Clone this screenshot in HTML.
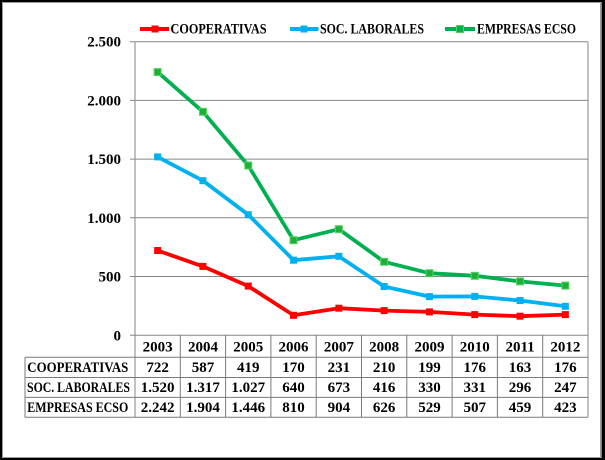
<!DOCTYPE html>
<html><head><meta charset="utf-8"><style>
html,body{margin:0;padding:0;background:#fff;width:605px;height:460px;overflow:hidden;}
svg{display:block;}
text{font-family:"Liberation Serif",serif;font-weight:bold;fill:#000;}
</style></head><body>
<svg width="605" height="460" viewBox="0 0 605 460" xmlns="http://www.w3.org/2000/svg">
<rect x="0" y="0" width="605" height="460" fill="#ffffff"/>
<!-- outer border -->
<rect x="0" y="0" width="605" height="2" fill="#000"/>
<rect x="0" y="0" width="2" height="460" fill="#000"/>
<rect x="601.5" y="0" width="3.5" height="460" fill="#000"/>
<rect x="0" y="458" width="605" height="2" fill="#000"/>
<line x1="2.5" y1="2.5" x2="600.5" y2="2.5" stroke="#9a9a9a" stroke-width="1"/>
<line x1="2.5" y1="2.5" x2="2.5" y2="457.5" stroke="#9a9a9a" stroke-width="1"/>
<line x1="600.5" y1="2.5" x2="600.5" y2="457.5" stroke="#9a9a9a" stroke-width="1"/>
<line x1="2.5" y1="457.5" x2="600.5" y2="457.5" stroke="#9a9a9a" stroke-width="1"/>

<!-- legend -->
<line x1="140" y1="29" x2="169" y2="29" stroke="#ff0000" stroke-width="4"/>
<rect x="151.5" y="25.5" width="7" height="7" fill="#ff0000"/>
<text x="170.5" y="33.5" font-size="14.5" textLength="96" lengthAdjust="spacingAndGlyphs">COOPERATIVAS</text>
<line x1="290" y1="29" x2="318.5" y2="29" stroke="#00b0f0" stroke-width="4"/>
<rect x="300.5" y="25.5" width="7" height="7" fill="#00b0f0"/>
<text x="320" y="33.5" font-size="14.5" textLength="104" lengthAdjust="spacingAndGlyphs">SOC. LABORALES</text>
<line x1="445" y1="29" x2="475" y2="29" stroke="#00b050" stroke-width="4"/>
<rect x="456.5" y="25.5" width="7" height="7" fill="#00b050" stroke="#4fd35a" stroke-width="1"/>
<text x="477" y="33.5" font-size="14.5" textLength="99" lengthAdjust="spacingAndGlyphs">EMPRESAS ECSO</text>

<!-- gridlines -->
<g stroke="#868686" stroke-width="1">
<line x1="130" y1="41.7" x2="588" y2="41.7"/>
<line x1="130" y1="100.4" x2="588" y2="100.4"/>
<line x1="130" y1="159.1" x2="588" y2="159.1"/>
<line x1="130" y1="217.8" x2="588" y2="217.8"/>
<line x1="130" y1="276.5" x2="588" y2="276.5"/>
<line x1="130" y1="335.3" x2="588" y2="335.3"/>
<line x1="588" y1="41.7" x2="588" y2="417.3"/>
<line x1="135" y1="41.7" x2="135" y2="417.3"/>
</g>
<!-- y labels -->
<g font-size="15" text-anchor="end">
<text x="121" y="46.7">2.500</text>
<text x="121" y="105.4">2.000</text>
<text x="121" y="164.1">1.500</text>
<text x="121" y="222.8">1.000</text>
<text x="121" y="281.5">500</text>
<text x="121" y="340.3">0</text>
</g>

<!-- table -->
<g stroke="#7a7a7a" stroke-width="1" fill="none">
<line x1="180.3" y1="335.3" x2="180.3" y2="417.3"/>
<line x1="225.6" y1="335.3" x2="225.6" y2="417.3"/>
<line x1="270.9" y1="335.3" x2="270.9" y2="417.3"/>
<line x1="316.2" y1="335.3" x2="316.2" y2="417.3"/>
<line x1="361.5" y1="335.3" x2="361.5" y2="417.3"/>
<line x1="406.8" y1="335.3" x2="406.8" y2="417.3"/>
<line x1="452.1" y1="335.3" x2="452.1" y2="417.3"/>
<line x1="497.4" y1="335.3" x2="497.4" y2="417.3"/>
<line x1="542.7" y1="335.3" x2="542.7" y2="417.3"/>
<line x1="25" y1="357.3" x2="588" y2="357.3"/>
<line x1="25" y1="377.5" x2="588" y2="377.5"/>
<line x1="25" y1="397.4" x2="588" y2="397.4"/>
<line x1="25" y1="417.3" x2="588" y2="417.3"/>
<line x1="25" y1="357.3" x2="25" y2="417.3"/>
</g>
<g font-size="14.5">
<text x="27.3" y="371.8" textLength="101" lengthAdjust="spacingAndGlyphs">COOPERATIVAS</text>
<text x="27" y="391.8" textLength="103" lengthAdjust="spacingAndGlyphs">SOC. LABORALES</text>
<text x="27.3" y="411.8" textLength="101" lengthAdjust="spacingAndGlyphs">EMPRESAS ECSO</text>
</g>
<g font-size="15" text-anchor="middle">
<text x="157.65" y="351.7">2003</text><text x="202.95" y="351.7">2004</text><text x="248.25" y="351.7">2005</text><text x="293.55" y="351.7">2006</text><text x="338.85" y="351.7">2007</text><text x="384.15" y="351.7">2008</text><text x="429.45" y="351.7">2009</text><text x="474.75" y="351.7">2010</text><text x="520.05" y="351.7">2011</text><text x="565.35" y="351.7">2012</text>
<text x="157.65" y="371.8">722</text><text x="202.95" y="371.8">587</text><text x="248.25" y="371.8">419</text><text x="293.55" y="371.8">170</text><text x="338.85" y="371.8">231</text><text x="384.15" y="371.8">210</text><text x="429.45" y="371.8">199</text><text x="474.75" y="371.8">176</text><text x="520.05" y="371.8">163</text><text x="565.35" y="371.8">176</text>
<text x="157.65" y="391.8">1.520</text><text x="202.95" y="391.8">1.317</text><text x="248.25" y="391.8">1.027</text><text x="293.55" y="391.8">640</text><text x="338.85" y="391.8">673</text><text x="384.15" y="391.8">416</text><text x="429.45" y="391.8">330</text><text x="474.75" y="391.8">331</text><text x="520.05" y="391.8">296</text><text x="565.35" y="391.8">247</text>
<text x="157.65" y="411.8">2.242</text><text x="202.95" y="411.8">1.904</text><text x="248.25" y="411.8">1.446</text><text x="293.55" y="411.8">810</text><text x="338.85" y="411.8">904</text><text x="384.15" y="411.8">626</text><text x="429.45" y="411.8">529</text><text x="474.75" y="411.8">507</text><text x="520.05" y="411.8">459</text><text x="565.35" y="411.8">423</text>
</g>

<!-- series -->
<polyline fill="none" stroke="#ff0000" stroke-width="3.8" stroke-linejoin="round" points="157.65,250.5 202.95,266.4 248.25,286.1 293.55,315.3 338.85,308.2 384.15,310.6 429.45,311.9 474.75,314.6 520.05,316.2 565.35,314.6"/>
<g fill="#ff0000">
<rect x="154.15" y="247" width="7" height="7"/><rect x="199.45" y="262.9" width="7" height="7"/><rect x="244.75" y="282.6" width="7" height="7"/><rect x="290.05" y="311.8" width="7" height="7"/><rect x="335.35" y="304.7" width="7" height="7"/><rect x="380.65" y="307.1" width="7" height="7"/><rect x="425.95" y="308.4" width="7" height="7"/><rect x="471.25" y="311.1" width="7" height="7"/><rect x="516.55" y="312.7" width="7" height="7"/><rect x="561.85" y="311.1" width="7" height="7"/>
</g>
<polyline fill="none" stroke="#00b0f0" stroke-width="3.8" stroke-linejoin="round" points="157.65,156.9 202.95,180.7 248.25,214.7 293.55,260.2 338.85,256.3 384.15,286.5 429.45,296.6 474.75,296.4 520.05,300.5 565.35,306.3"/>
<g fill="#00b0f0">
<rect x="154.15" y="153.4" width="7" height="7"/><rect x="199.45" y="177.2" width="7" height="7"/><rect x="244.75" y="211.2" width="7" height="7"/><rect x="290.05" y="256.7" width="7" height="7"/><rect x="335.35" y="252.8" width="7" height="7"/><rect x="380.65" y="283" width="7" height="7"/><rect x="425.95" y="293.1" width="7" height="7"/><rect x="471.25" y="292.9" width="7" height="7"/><rect x="516.55" y="297" width="7" height="7"/><rect x="561.85" y="302.8" width="7" height="7"/>
</g>
<polyline fill="none" stroke="#00b050" stroke-width="3.8" stroke-linejoin="round" points="157.65,72.1 202.95,111.8 248.25,165.5 293.55,240.2 338.85,229.2 384.15,261.8 429.45,273.2 474.75,275.8 520.05,281.4 565.35,285.6"/>
<g fill="#1fae3c" stroke="#55d45e" stroke-width="1">
<rect x="154.15" y="68.6" width="7" height="7"/><rect x="199.45" y="108.3" width="7" height="7"/><rect x="244.75" y="162" width="7" height="7"/><rect x="290.05" y="236.7" width="7" height="7"/><rect x="335.35" y="225.7" width="7" height="7"/><rect x="380.65" y="258.3" width="7" height="7"/><rect x="425.95" y="269.7" width="7" height="7"/><rect x="471.25" y="272.3" width="7" height="7"/><rect x="516.55" y="277.9" width="7" height="7"/><rect x="561.85" y="282.1" width="7" height="7"/>
</g>
</svg>
</body></html>
